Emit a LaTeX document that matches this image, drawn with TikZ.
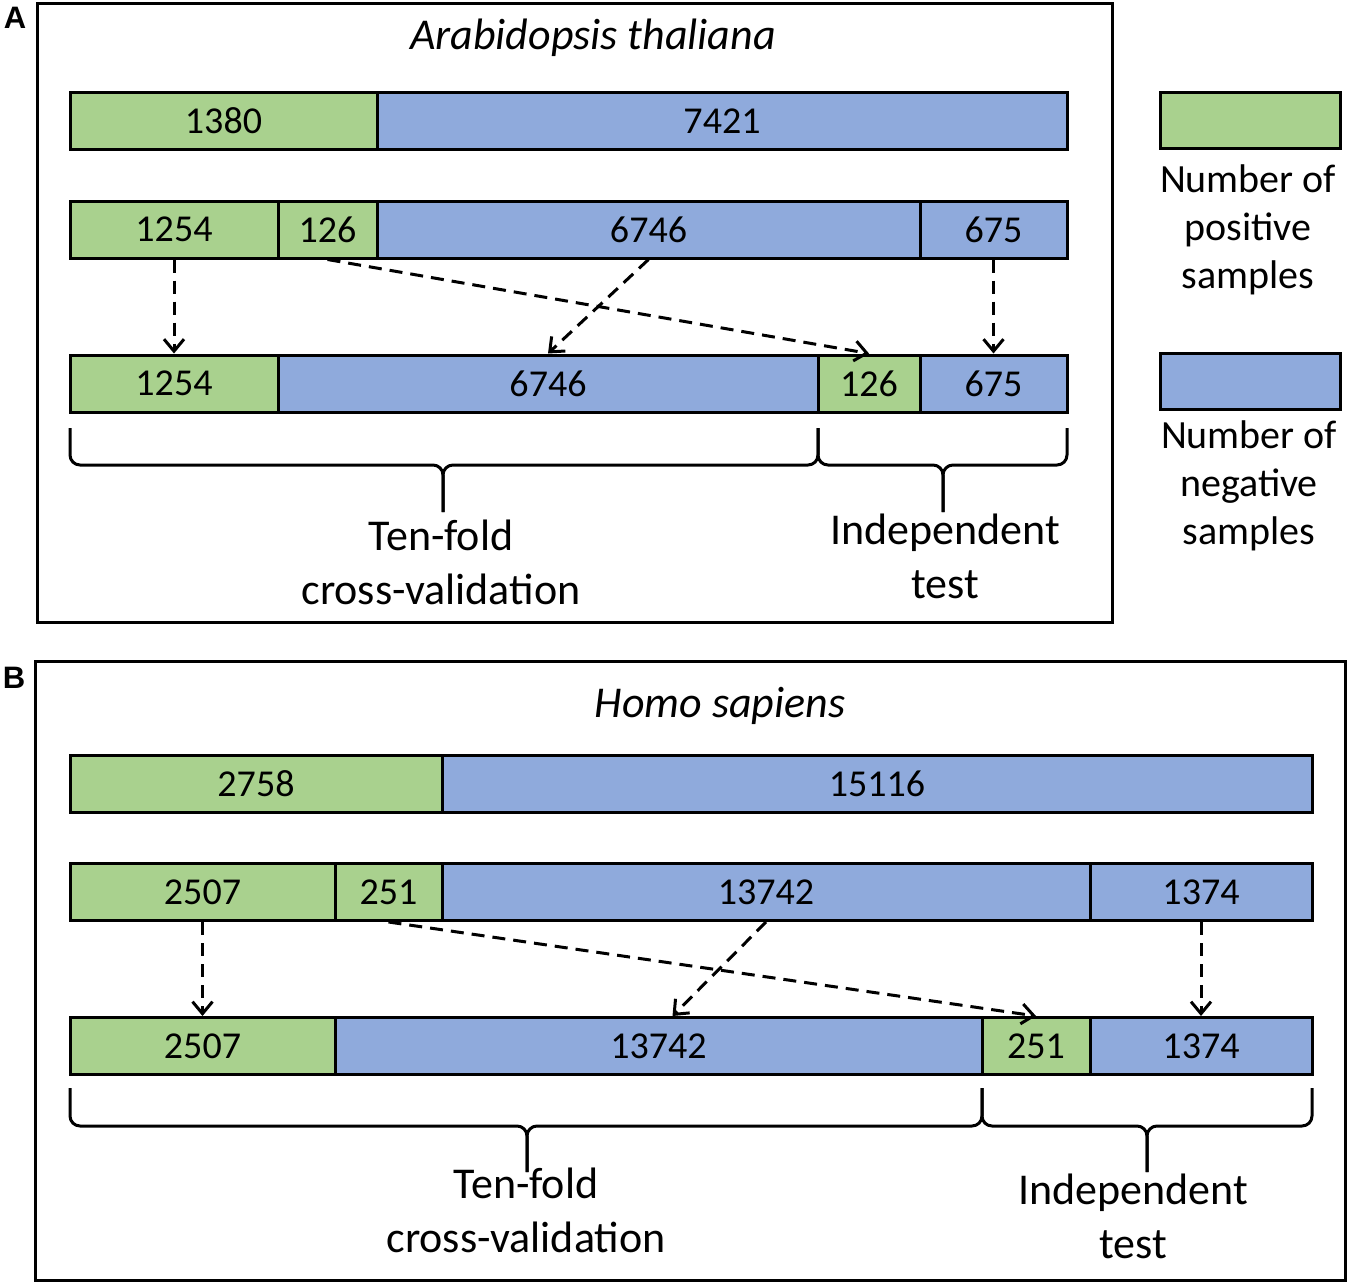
\documentclass[tikz,border=0pt]{standalone}
\usepackage{fontspec}
\setmainfont{Carlito}
\newfontfamily\panelfont{Liberation Sans}
\usetikzlibrary{arrows.meta}

\definecolor{posgreen}{RGB}{169,209,142}
\definecolor{negblue}{RGB}{143,170,220}

\tikzset{
  seg/.style={draw, line width=3pt, inner sep=0pt, minimum height=57pt, font=\fontsize{38}{46}\selectfont},
  posseg/.style={seg, fill=posgreen},
  negseg/.style={seg, fill=negblue},
  move/.style={draw, line width=3pt, dash pattern=on 13pt off 8pt, -{Straight Barb[length=12pt,width=20pt]}},
  curly/.style={draw, line width=3pt, rounded corners=10pt},
  caption/.style={align=center, font=\fontsize{44}{54}\selectfont},
  legend/.style={align=center, font=\fontsize{40}{48}\selectfont},
  panel/.style={draw, line width=3pt},
  letter/.style={font=\panelfont\bfseries\fontsize{31}{34}\selectfont},
}

% x1, xm, x2, ytop, ybot, ytip
\newcommand{\splitbrace}[6]{%
  \path[curly] (#1,#4) -- (#1,#5) -- (#2,#5) -- (#2,#6);
  \path[curly] (#3,#4) -- (#3,#5) -- (#2,#5) -- (#2,#6);
}

\begin{document}
\begin{tikzpicture}[x=1pt,y=-1pt]
\useasboundingbox (0,0) rectangle (1350,1285);

% panel A
\begin{scope}
\path[panel] (37,3) rectangle (1112,622);
\node[letter] (la) at (15,18) {A};
\node[caption] (ta) at (593,38) {\itshape Arabidopsis thaliana};
\node[posseg, minimum width=307pt] (a11) at (223.5,121) {1380};
\node[negseg, minimum width=690pt] (a12) at (722,121) {7421};
\node[posseg, minimum width=208pt] (a21) at (174,229.5) {1254};
\node[posseg, minimum width=99pt] (a22) at (327.5,229.5) {126};
\node[negseg, minimum width=543pt] (a23) at (648.5,229.5) {6746};
\node[negseg, minimum width=147pt] (a24) at (993.5,229.5) {675};
\node[posseg, minimum width=208pt] (a31) at (174,383.5) {1254};
\node[negseg, minimum width=540pt] (a32) at (548,383.5) {6746};
\node[posseg, minimum width=102pt] (a33) at (869,383.5) {126};
\node[negseg, minimum width=147pt] (a34) at (993.5,383.5) {675};
\path[move] (a21.south) -- (a31.north);
\path[move] (a22.south) -- (a33.north);
\path[move] (a23.south) -- (a32.north);
\path[move] (a24.south) -- (a34.north);
\splitbrace{70}{443}{818}{428}{465}{512}
\splitbrace{818}{943}{1067}{428}{465}{512}
\node[caption] (cva) at (441,562) {Ten-fold\\cross-validation};
\node[caption] (ita) at (945,556) {Independent\\test};
\node[posseg, minimum width=180pt, minimum height=56pt] (posbox) at (1250,120) {};
\node[legend] (poslabel) at (1248,230) {Number of\\positive\\samples};
\node[negseg, minimum width=180pt, minimum height=56pt] (negbox) at (1250,381.5) {};
\node[legend] (neglabel) at (1249,486) {Number of\\negative\\samples};
\end{scope}

% panel B
\begin{scope}
\path[panel] (35,661) rectangle (1345,1280);
\node[letter] (lb) at (14,678) {B};
\node[caption] (tb) at (720,706) {\itshape Homo sapiens};
\node[posseg, minimum width=372pt] (b11) at (256,783.5) {2758};
\node[negseg, minimum width=870pt] (b12) at (877,783.5) {15116};
\node[posseg, minimum width=265pt] (b21) at (202.5,892) {2507};
\node[posseg, minimum width=107pt] (b22) at (388.5,892) {251};
\node[negseg, minimum width=648pt] (b23) at (766,892) {13742};
\node[negseg, minimum width=222pt] (b24) at (1201,892) {1374};
\node[posseg, minimum width=265pt] (b31) at (202.5,1046) {2507};
\node[negseg, minimum width=647pt] (b32) at (658.5,1046) {13742};
\node[posseg, minimum width=108pt] (b33) at (1036,1046) {251};
\node[negseg, minimum width=222pt] (b34) at (1201,1046) {1374};
\path[move] (b21.south) -- (b31.north);
\path[move] (b22.south) -- (b33.north);
\path[move] (b23.south) -- ([xshift=14pt]b32.north);
\path[move] (b24.south) -- (b34.north);
\splitbrace{70}{527}{982}{1088}{1126}{1172}
\splitbrace{982}{1147}{1312}{1088}{1126}{1172}
\node[caption] (cvb) at (526,1210) {Ten-fold\\cross-validation};
\node[caption] (itb) at (1133,1216) {Independent\\test};
\end{scope}
\end{tikzpicture}
\end{document}
